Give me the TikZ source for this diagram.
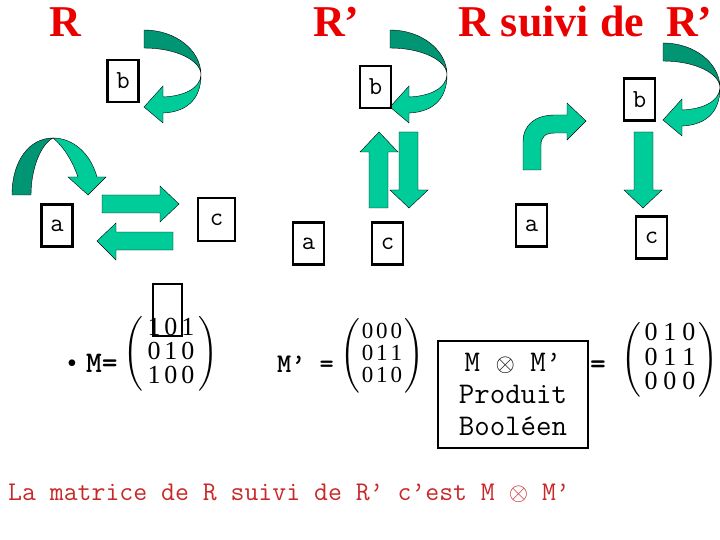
\documentclass[tikz,border=0pt]{standalone}
\usepackage{amsmath}
\usepackage{fontspec}
\setmainfont{Liberation Serif}
\usetikzlibrary{positioning}
\definecolor{vertclair}{RGB}{0,204,153}
\definecolor{vertfonce}{RGB}{0,150,115}
\definecolor{rouge}{RGB}{235,0,0}
\definecolor{rougetexte}{RGB}{200,40,40}

\begin{document}
\begin{tikzpicture}[x=1pt,y=-1pt,
  sommet/.style={draw,line width=2.5pt,minimum width=31pt,minimum height=42pt,inner sep=0pt,font=\ttfamily\fontsize{26}{26}\selectfont},
  titre/.style={text=rouge,font=\bfseries\fontsize{44}{44}\selectfont,inner sep=0pt},
  fleche/.style={fill=vertclair,draw=black,line width=0.4pt},
  flechefonce/.style={fill=vertfonce,draw=black,line width=0.4pt},
  matrice/.style={inner sep=0pt}]
\useasboundingbox (0,0) rectangle (720,540);

% titres
\node[titre,anchor=base] (tR) at (65,37) {R};
\node[titre,anchor=base west] (tRp) at (313,37) {R’};
\node[titre,anchor=base west] (tRRp) at (458,37) {R suivi de\ \ R’};

% R
\node[sommet] (bR) at (123,81) {b};
\node[sommet] (aR) at (57,225.5) {a};
\node[sommet,minimum width=37pt,minimum height=43pt] (cR) at (216.5,219.5) {c};
\foreach \dx/\dy in {0/0,246/0,519/13}{
  \begin{scope}[shift={(\dx,\dy)}]
    \filldraw[flechefonce] (144,30) arc[start angle=-90,end angle=0,x radius=57,y radius=45]
      arc[start angle=0,end angle=-90,x radius=57,y radius=27] -- cycle;
    \filldraw[fleche] (201,75) .. controls (200,88) and (185,96) .. (163,97) -- (163,86) -- (144,107)
      -- (163,123) -- (163,113) .. controls (188,112) and (201,98) .. (201,75) -- cycle;
  \end{scope}
}
\filldraw[flechefonce] (12,195) .. controls (12,160) and (30,138) .. (53,138)
  .. controls (40,145) and (31,170) .. (31,195) -- cycle;
\filldraw[fleche] (53,138) .. controls (72,138) and (90,152) .. (97,177) -- (106,177) -- (88,195)
  -- (68,177) -- (78,177) .. controls (72,160) and (63,146) .. (53,138) -- cycle;
\filldraw[fleche] (102,195) -- (160,195) -- (160,186) -- (179,204) -- (160,222) -- (160,213) -- (102,213) -- cycle;
\filldraw[fleche] (173,232) -- (116,232) -- (116,223) -- (97,241) -- (116,260) -- (116,250) -- (173,250) -- cycle;

% R'
\node[sommet] (bRp) at (375.5,87) {b};
\node[sommet] (aRp) at (308.5,243.5) {a};
\node[sommet] (cRp) at (387.5,243.5) {c};
\filldraw[fleche] (369,208) -- (369,152) -- (360,152) -- (379,132) -- (398,152) -- (388,152) -- (388,208) -- cycle;
\filldraw[fleche] (399,132) -- (418,132) -- (418,190) -- (428,190) -- (409,208) -- (390,190) -- (399,190) -- cycle;

% R suivi de R'
\node[sommet] (bRRp) at (639.5,99.5) {b};
\node[sommet] (aRRp) at (531.5,225.5) {a};
\node[sommet] (cRRp) at (651.5,237.5) {c};
\filldraw[fleche] (523,170) -- (523,142) .. controls (523,125) and (535,115) .. (555,115) -- (567,115)
  -- (567,103) -- (586,121) -- (567,140) -- (567,133) -- (555,133) .. controls (545,133) and (541,137) .. (541,145)
  -- (541,170) -- cycle;
\filldraw[fleche] (634,132) -- (653,132) -- (653,190) -- (662,190) -- (643,208) -- (624,190) -- (634,190) -- cycle;

% matrices
\node[anchor=base,font=\fontsize{28}{28}\selectfont] (puce) at (72,372) {•};
\node[anchor=base west,font=\ttfamily\bfseries\fontsize{30}{30}\selectfont,inner sep=0pt] (egalM) at (86,372) {M=};
\node[matrice,font=\fontsize{26}{23}\selectfont] (matM) at (171,354)
  {$\left(\begin{tabular}{@{\hspace{4pt}}c@{\hspace{4pt}}c@{\hspace{4pt}}c@{\hspace{4pt}}}1&0&1\\0&1&0\\1&0&0\end{tabular}\right)$};
\node[draw,line width=2.5pt,minimum width=29pt,minimum height=52pt,inner sep=0pt] (vide) at (167.5,310) {};
\node[anchor=base west,font=\ttfamily\bfseries\fontsize{27}{27}\selectfont,inner sep=0pt] (egalMp) at (277,372) {M’ =};
\node[matrice,font=\fontsize{23}{22}\selectfont] (matMp) at (382,356)
  {$\left(\begin{tabular}{@{\hspace{2pt}}c@{\hspace{3pt}}c@{\hspace{3pt}}c@{\hspace{2pt}}}0&0&0\\0&1&1\\0&1&0\end{tabular}\right)$};
\node[draw,line width=2.5pt,minimum width=150pt,minimum height=107pt,align=center,
  font=\ttfamily\fontsize{30}{32}\selectfont] (produit) at (513,394.5) {M $\otimes$ M’\\Produit\\Booléen};
\node[font=\ttfamily\bfseries\fontsize{30}{30}\selectfont,inner sep=0pt] (egal) at (598,367) {=};
\node[matrice,font=\fontsize{26}{24}\selectfont] (matP) at (670,360)
  {$\left(\begin{tabular}{@{\hspace{3pt}}c@{\hspace{6pt}}c@{\hspace{6pt}}c@{\hspace{3pt}}}0&1&0\\0&1&1\\0&0&0\end{tabular}\right)$};

% phrase
\node[anchor=base west,text=rougetexte,font=\ttfamily\fontsize{27}{27}\selectfont,inner sep=0pt] (phrase) at (8,500)
  {La matrice de R suivi de R’ c’est M $\otimes$ M’};
\end{tikzpicture}
\end{document}
